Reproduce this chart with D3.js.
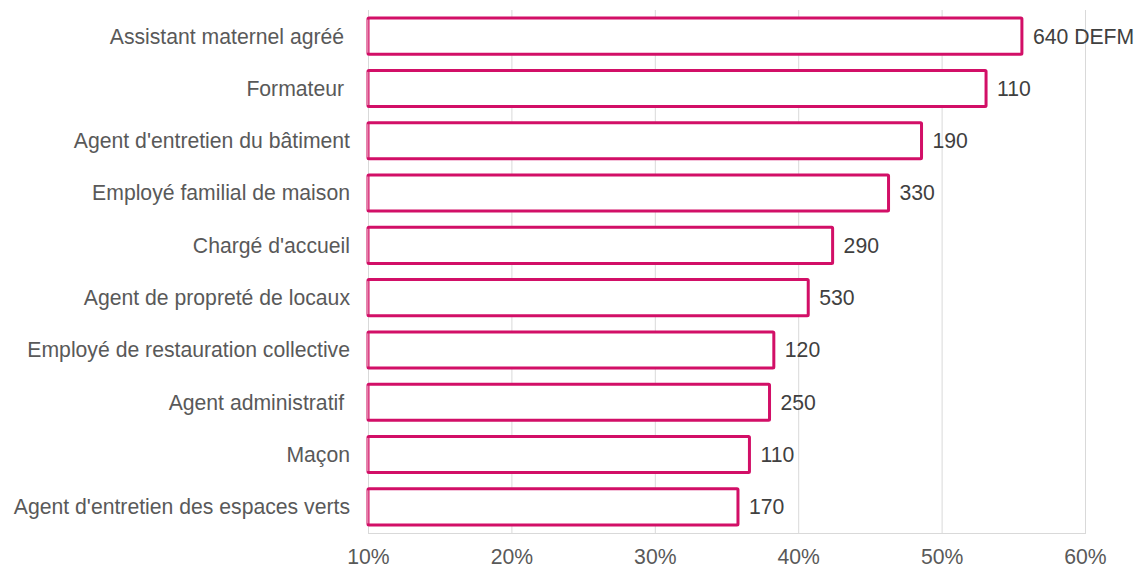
<!DOCTYPE html>
<html>
<head>
<meta charset="utf-8">
<script src="https://cdn.jsdelivr.net/npm/d3@7"></script>
<style>
  body { margin: 0; background: #fff; }
  text { font-family: "Liberation Sans", Arial, sans-serif; fill: #595959; white-space: pre; }
</style>
</head>
<body>
<div id="chart"></div>
<script>
var categories = [
  "Assistant maternel agréé ",
  "Formateur ",
  "Agent d'entretien du bâtiment",
  "Employé familial de maison",
  "Chargé d'accueil",
  "Agent de propreté de locaux",
  "Employé de restauration collective",
  "Agent administratif ",
  "Maçon",
  "Agent d'entretien des espaces verts"
];
var shares = [55.6, 53.1, 48.6, 46.3, 42.4, 40.7, 38.3, 38.0, 36.6, 35.8];
var defm = ["640 DEFM", "110", "190", "330", "290", "530", "120", "250", "110", "170"];
var ticks = [10, 20, 30, 40, 50, 60];

var width = 1143, height = 566;
var plotLeft = 368, plotRight = 1085, plotTop = 10, plotBottom = 533;
var fontSize = "21.2px";

var svg = d3.select("#chart").append("svg")
  .attr("width", width)
  .attr("height", height);

var x = d3.scaleLinear().domain([10, 60]).range([plotLeft, plotRight]);
var y = d3.scaleBand().domain(categories).range([plotTop, plotBottom]).paddingInner(0.31).paddingOuter(0.155);

// gridlines
svg.append("g")
  .selectAll("line")
  .data(ticks)
  .enter()
  .append("line")
  .attr("x1", d => x(d) + 0.5)
  .attr("x2", d => x(d) + 0.5)
  .attr("y1", plotTop)
  .attr("y2", plotBottom)
  .attr("stroke", "#d9d9d9")
  .attr("stroke-width", 1);

// axis baseline
svg.append("line")
  .attr("x1", plotLeft)
  .attr("x2", plotRight + 1)
  .attr("y1", plotBottom + 0.5)
  .attr("y2", plotBottom + 0.5)
  .attr("stroke", "#d9d9d9");

// x tick labels
var xaxis = d3.axisBottom(x).tickValues(ticks).tickFormat(d => d + "%").tickSize(0).tickPadding(16);
var gx = svg.append("g")
  .attr("transform", "translate(0," + plotBottom + ")")
  .call(xaxis);
gx.select(".domain").remove();
gx.selectAll("text").style("font-size", fontSize).attr("fill", "#595959");

// bars
var bars = svg.append("g");
bars.selectAll("rect")
  .data(categories)
  .enter()
  .append("rect")
  .attr("x", x(10))
  .attr("y", d => y(d))
  .attr("width", (d, i) => x(shares[i]) - x(10))
  .attr("height", y.bandwidth())
  .attr("fill", "#fff")
  .attr("stroke", "#d20f67")
  .attr("stroke-width", 3)
  .attr("rx", 1);

// lighter left edge (stroke sits on the axis start)
bars.selectAll("line")
  .data(categories)
  .enter()
  .append("line")
  .attr("x1", x(10) - 0.5)
  .attr("x2", x(10) - 0.5)
  .attr("y1", d => y(d) + 1.5)
  .attr("y2", d => y(d) + y.bandwidth() - 1.5)
  .attr("stroke", "#e57fa9")
  .attr("stroke-width", 2);

// category labels
svg.append("g")
  .selectAll("text")
  .data(categories)
  .enter()
  .append("text")
  .attr("x", 350)
  .attr("y", d => y(d) + y.bandwidth() / 2)
  .attr("dy", "0.35em")
  .attr("text-anchor", "end")
  .style("font-size", fontSize)
  .text(d => d);

// value labels
svg.append("g")
  .selectAll("text")
  .data(categories)
  .enter()
  .append("text")
  .attr("x", (d, i) => x(shares[i]) + 11)
  .attr("y", d => y(d) + y.bandwidth() / 2)
  .attr("dy", "0.35em")
  .style("font-size", fontSize)
  .style("fill", "#404040")
  .text((d, i) => defm[i]);
</script>
</body>
</html>
